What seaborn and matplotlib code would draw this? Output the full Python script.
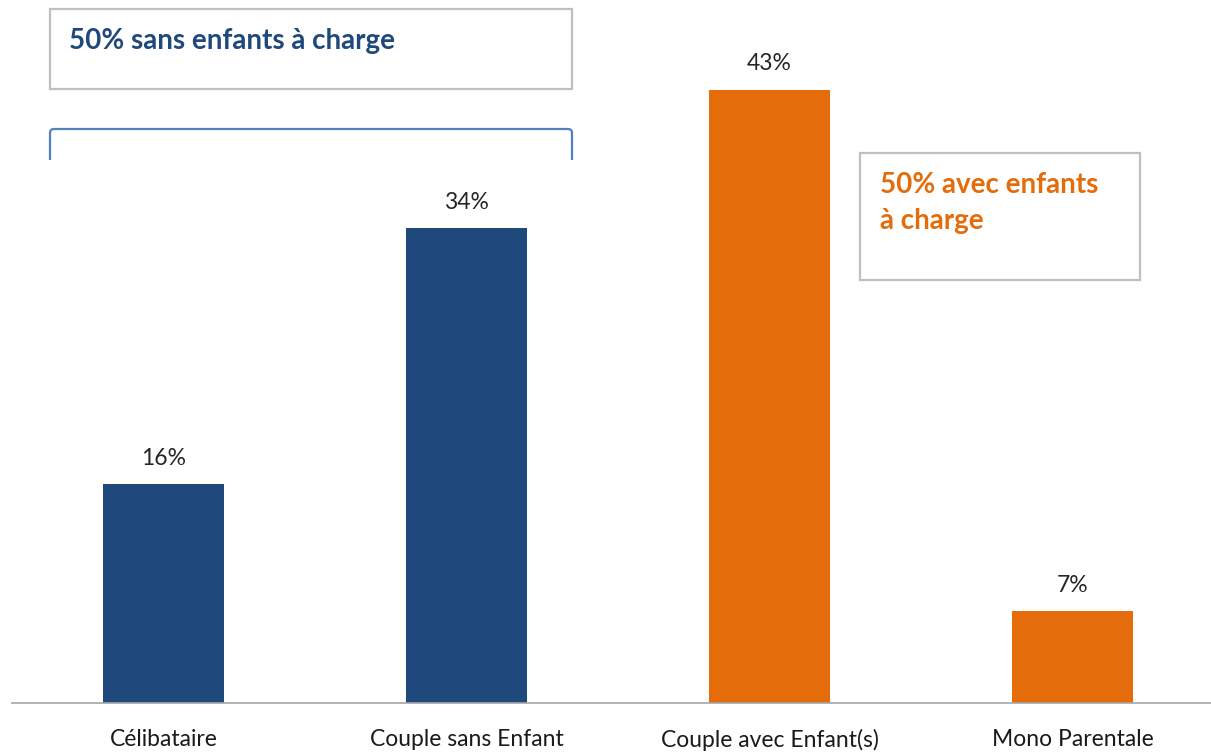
import matplotlib
matplotlib.use("Agg")
import matplotlib.pyplot as plt
import seaborn as sns
from matplotlib.patches import Rectangle
import matplotlib.path as mpath
import matplotlib.patches as mpatches

categories = ["Célibataire", "Couple sans Enfant", "Couple avec Enfant(s)", "Mono Parentale"]
values = [15.5, 33.7, 43.5, 6.5]
value_labels = ["16%", "34%", "43%", "7%"]
bar_colors = ["#1F497D", "#1F497D", "#E46C0A", "#E46C0A"]
box_left_text = "50% sans enfants à charge"
box_right_text = "50% avec enfants\nà charge"

sns.set_theme(style="white")
plt.rcParams['font.family'] = ['Lato', 'DejaVu Sans']

W, H = 1211, 752
fig = plt.figure(figsize=(W / 100, H / 100), dpi=100)

def fx(px):
    return px / W

def fy(py):
    return 1 - py / H

px_per_pct = 14.1
ymax = 50
ax_h = ymax * px_per_pct
ax = fig.add_axes([fx(12), fy(703), fx(1224) - fx(12), ax_h / H])

sns.barplot(x=categories, y=values, hue=categories, palette=bar_colors,
            legend=False, width=0.4, saturation=1, ax=ax, edgecolor="none")
ax.set_xlim(-0.5, 3.5)
ax.set_ylim(0, ymax)
ax.set_xlabel("")
ax.set_ylabel("")
ax.set_yticks([])
for s in ["top", "right", "left"]:
    ax.spines[s].set_visible(False)
ax.spines["bottom"].set_color("#A6A6A6")
ax.spines["bottom"].set_linewidth(1.2)

ax.set_xticks(range(len(categories)))
ax.set_xticklabels(categories, fontsize=16.5, color="#1a1a1a")
ax.tick_params(axis="x", which="major", length=0, pad=19)
ax.set_xticks([-0.5, 0.5, 1.5, 2.5, 3.5], minor=True)
ax.tick_params(axis="x", which="minor", length=10, width=1.2, color="#A6A6A6", direction="out")

for i, (v, lab) in enumerate(zip(values, value_labels)):
    ax.annotate(lab, (i, v), xytext=(0, 11), textcoords="offset points",
                ha="center", va="bottom", fontsize=16.5, color="#262626")

# left box
fig.patches.append(Rectangle((fx(50), fy(89)), fx(572) - fx(50), fy(9) - fy(89),
                             transform=fig.transFigure, fill=False,
                             edgecolor="#BFBFBF", linewidth=1.6))
fig.text(fx(69), fy(41), box_left_text, fontsize=20, fontweight="bold",
         color="#1F497D", va="center", ha="left")

# right box
fig.patches.append(Rectangle((fx(860), fy(280)), fx(1140) - fx(860), fy(153) - fy(280),
                             transform=fig.transFigure, fill=False,
                             edgecolor="#BFBFBF", linewidth=1.6))
fig.text(fx(880), fy(203), box_right_text, fontsize=20, fontweight="bold",
         color="#E46C0A", va="center", ha="left", linespacing=1.5)

# bracket
r = 4
verts = [(fx(50), fy(160)), (fx(50), fy(129 + r)), (fx(50), fy(129)), (fx(50 + r), fy(129)),
         (fx(572 - r), fy(129)), (fx(572), fy(129)), (fx(572), fy(129 + r)), (fx(572), fy(160))]
codes = [mpath.Path.MOVETO, mpath.Path.LINETO, mpath.Path.CURVE3, mpath.Path.CURVE3,
         mpath.Path.LINETO, mpath.Path.CURVE3, mpath.Path.CURVE3, mpath.Path.LINETO]
fig.patches.append(mpatches.PathPatch(mpath.Path(verts, codes), transform=fig.transFigure,
                                      fill=False, edgecolor="#4F81BD", linewidth=1.6))

fig.savefig("out.png", dpi=100)
